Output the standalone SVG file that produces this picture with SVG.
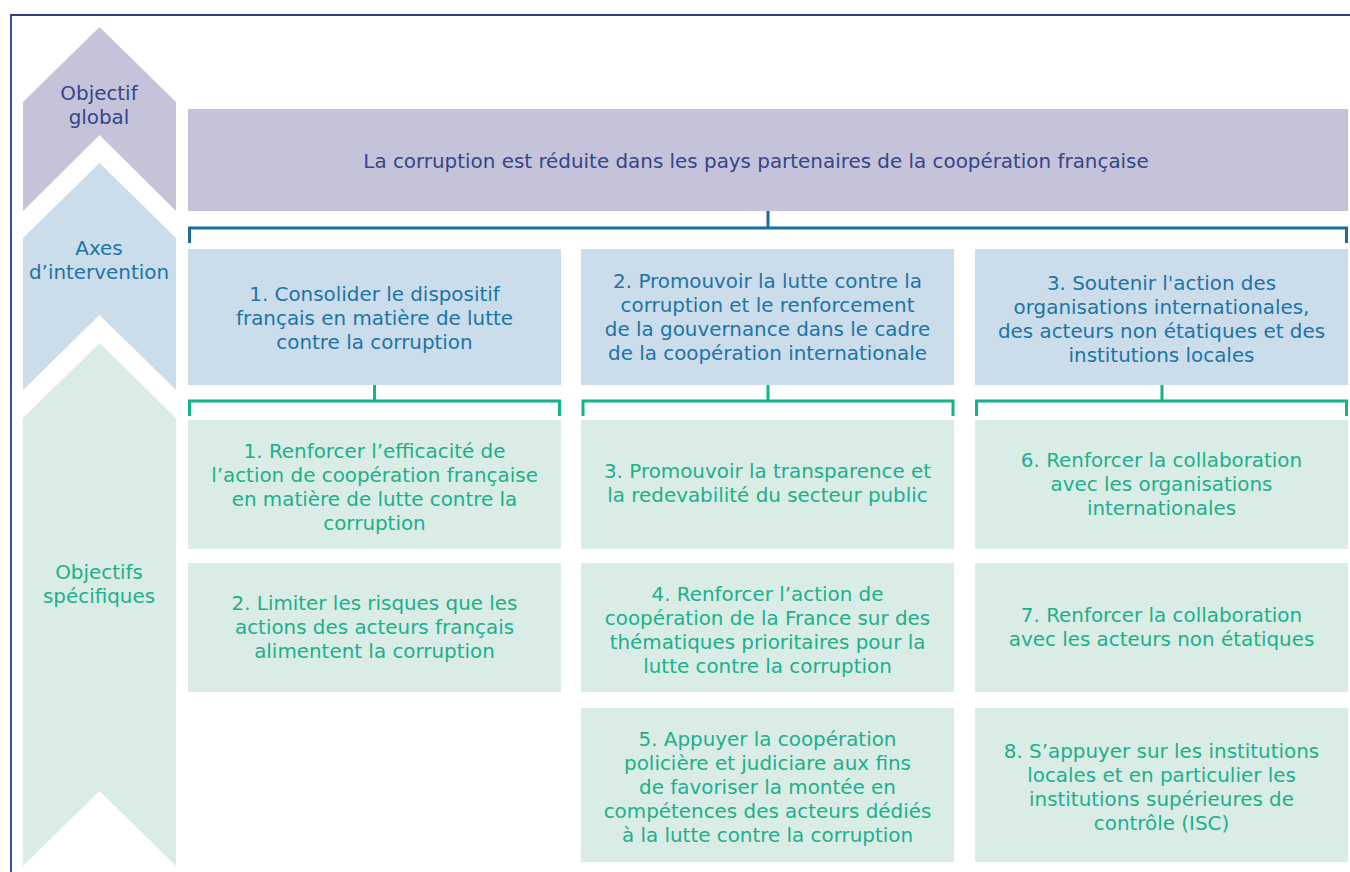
<svg xmlns="http://www.w3.org/2000/svg" width="1350" height="872" viewBox="0 0 1350 872">
<style>
text{font-family:"DejaVu Sans","Open Sans",sans-serif;font-size:19.9px;text-anchor:middle}
.tp{fill:#34458a}
.tb{fill:#1b75a6}
.tg{fill:#1cb08c}
.bp{fill:#c5c3d9}
.bb{fill:#cbdcea}
.bg{fill:#d9ece6}
.cb{stroke:#1a6e9e;stroke-width:3;fill:none}
.cg{stroke:#13b48a;stroke-width:3;fill:none}
</style>
<rect width="1350" height="872" fill="#ffffff"/>
<path d="M11 872 V15 H1350" fill="none" stroke="#2b3a8c" stroke-width="1.8"/>

<g id="lbl-global">
<polygon class="bp" points="23,102 99.5,27 176,102 176,211 99.5,135 23,211"/>
<text class="tp" x="99" y="100">Objectif</text>
<text class="tp" x="99" y="124">global</text>
</g>
<g id="lbl-axes">
<polygon class="bb" points="23,238 99.5,163 176,238 176,390 99.5,315 23,390"/>
<text class="tb" x="99" y="255">Axes</text>
<text class="tb" x="99" y="279">d’intervention</text>
</g>
<g id="lbl-specifiques">
<polygon class="bg" points="23,418 99.5,343 176,418 176,866 99.5,791 23,866"/>
<text class="tg" x="99" y="579">Objectifs</text>
<text class="tg" x="99" y="603">spécifiques</text>
</g>

<g id="connectors">
<path class="cb" d="M768 211 V228 M189.5 243 V228 H1346.5 V243"/>
<path class="cg" d="M374.5 385 V401 M189.5 416 V401 H559.5 V416"/>
<path class="cg" d="M768 385 V401 M583 416 V401 H953 V416"/>
<path class="cg" d="M1162 385 V401 M976.5 416 V401 H1346.5 V416"/>
</g>

<g id="global">
<rect class="bp" x="188" y="109" width="1160" height="102"/>
<text class="tp" x="756" y="168">La corruption est réduite dans les pays partenaires de la coopération française</text>
</g>

<g id="axe1">
<rect class="bb" x="188" y="249" width="373" height="136"/>
<text class="tb" x="374.5" y="301">1. Consolider le dispositif</text>
<text class="tb" x="374.5" y="325">français en matière de lutte</text>
<text class="tb" x="374.5" y="349">contre la corruption</text>
</g>
<g id="axe2">
<rect class="bb" x="581" y="249" width="373" height="136"/>
<text class="tb" x="767.5" y="288">2. Promouvoir la lutte contre la</text>
<text class="tb" x="767.5" y="312">corruption et le renforcement</text>
<text class="tb" x="767.5" y="336">de la gouvernance dans le cadre</text>
<text class="tb" x="767.5" y="360">de la coopération internationale</text>
</g>
<g id="axe3">
<rect class="bb" x="975" y="249" width="373" height="136"/>
<text class="tb" x="1161.5" y="290">3. Soutenir l'action des</text>
<text class="tb" x="1161.5" y="314">organisations internationales,</text>
<text class="tb" x="1161.5" y="338">des acteurs non étatiques et des</text>
<text class="tb" x="1161.5" y="362">institutions locales</text>
</g>

<g id="os1">
<rect class="bg" x="188" y="420" width="373" height="129"/>
<text class="tg" x="374.5" y="458">1. Renforcer l’efficacité de</text>
<text class="tg" x="374.5" y="482">l’action de coopération française</text>
<text class="tg" x="374.5" y="506">en matière de lutte contre la</text>
<text class="tg" x="374.5" y="530">corruption</text>
</g>
<g id="os2">
<rect class="bg" x="188" y="563" width="373" height="129"/>
<text class="tg" x="374.5" y="610">2. Limiter les risques que les</text>
<text class="tg" x="374.5" y="634">actions des acteurs français</text>
<text class="tg" x="374.5" y="658">alimentent la corruption</text>
</g>
<g id="os3">
<rect class="bg" x="581" y="420" width="373" height="129"/>
<text class="tg" x="767.5" y="478">3. Promouvoir la transparence et</text>
<text class="tg" x="767.5" y="502">la redevabilité du secteur public</text>
</g>
<g id="os4">
<rect class="bg" x="581" y="563" width="373" height="129"/>
<text class="tg" x="767.5" y="601">4. Renforcer l’action de</text>
<text class="tg" x="767.5" y="625">coopération de la France sur des</text>
<text class="tg" x="767.5" y="649">thématiques prioritaires pour la</text>
<text class="tg" x="767.5" y="673">lutte contre la corruption</text>
</g>
<g id="os5">
<rect class="bg" x="581" y="708" width="373" height="154"/>
<text class="tg" x="767.5" y="746">5. Appuyer la coopération</text>
<text class="tg" x="767.5" y="770">policière et judiciare aux fins</text>
<text class="tg" x="767.5" y="794">de favoriser la montée en</text>
<text class="tg" x="767.5" y="818">compétences des acteurs dédiés</text>
<text class="tg" x="767.5" y="842">à la lutte contre la corruption</text>
</g>
<g id="os6">
<rect class="bg" x="975" y="420" width="373" height="129"/>
<text class="tg" x="1161.5" y="467">6. Renforcer la collaboration</text>
<text class="tg" x="1161.5" y="491">avec les organisations</text>
<text class="tg" x="1161.5" y="515">internationales</text>
</g>
<g id="os7">
<rect class="bg" x="975" y="563" width="373" height="129"/>
<text class="tg" x="1161.5" y="622">7. Renforcer la collaboration</text>
<text class="tg" x="1161.5" y="646">avec les acteurs non étatiques</text>
</g>
<g id="os8">
<rect class="bg" x="975" y="708" width="373" height="154"/>
<text class="tg" x="1161.5" y="758">8. S’appuyer sur les institutions</text>
<text class="tg" x="1161.5" y="782">locales et en particulier les</text>
<text class="tg" x="1161.5" y="806">institutions supérieures de</text>
<text class="tg" x="1161.5" y="830">contrôle (ISC)</text>
</g>
</svg>
